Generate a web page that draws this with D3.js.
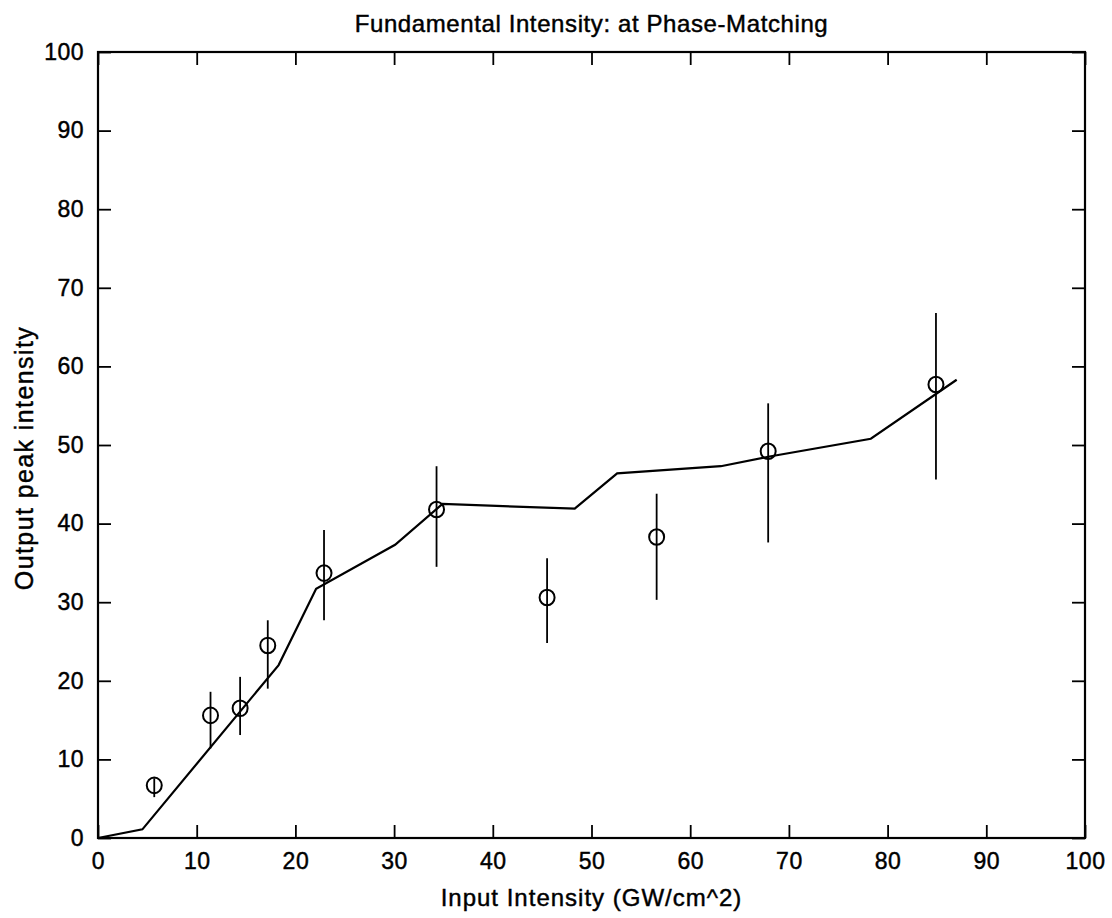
<!DOCTYPE html>
<html><head><meta charset="utf-8">
<script src="https://cdn.jsdelivr.net/npm/d3@7"></script>
<style>html,body{margin:0;padding:0;background:#fff;}svg{display:block;font-family:"Liberation Sans",Arial,sans-serif;} text{stroke:#000;stroke-width:0.45px;}</style>
</head><body>
<svg id="c" width="1112" height="918"></svg>
<script>
const ticks = [0,10,20,30,40,50,60,70,80,90,100];
const pointX = [5.7, 11.4, 14.4, 17.2, 22.9, 34.3, 45.5, 56.6, 67.9, 84.9];
const pointY = [6.7, 15.6, 16.5, 24.5, 33.7, 41.8, 30.6, 38.3, 49.2, 57.7];
const errLow = [5.2, 11.4, 13.1, 19.0, 27.7, 34.5, 24.8, 30.3, 37.6, 45.6];
const errHigh = [7.6, 18.6, 20.5, 27.7, 39.2, 47.3, 35.6, 43.8, 55.3, 66.8];
const lineX = [0, 4.5, 18.3, 22.1, 30.1, 34.9, 48.3, 52.6, 63.1, 67.9, 78.3, 87.0];
const lineY = [0, 1.1, 22.0, 31.7, 37.3, 42.5, 41.9, 46.4, 47.3, 48.5, 50.8, 58.3];

const L = 98, R = 1085, T = 52, B = 838;
const svg = d3.select("#c");
const x = d3.scaleLinear().domain([0,100]).range([L,R]);
const y = d3.scaleLinear().domain([0,100]).range([B,T]);

// axes (ticks inward)
svg.append("g").attr("transform",`translate(0,${B})`)
  .call(d3.axisBottom(x).tickValues(ticks).tickSizeInner(-13).tickSizeOuter(0).tickPadding(15));
svg.append("g").attr("transform",`translate(${L},0)`)
  .call(d3.axisLeft(y).tickValues(ticks).tickSizeInner(-13).tickSizeOuter(0).tickPadding(14));
svg.append("g").attr("transform",`translate(0,${T})`)
  .call(d3.axisTop(x).tickValues(ticks).tickSizeInner(-13).tickSizeOuter(0).tickFormat(""));
svg.append("g").attr("transform",`translate(${R},0)`)
  .call(d3.axisRight(y).tickValues(ticks).tickSizeInner(-13).tickSizeOuter(0).tickFormat(""));
svg.selectAll(".domain").remove();
svg.selectAll(".tick line").attr("stroke","#000").attr("stroke-width",1.8);
svg.selectAll(".tick text").attr("font-size",23).attr("fill","#000").attr("letter-spacing",0.5);
svg.append("rect").attr("x",L).attr("y",T).attr("width",R-L).attr("height",B-T)
  .attr("fill","none").attr("stroke","#000").attr("stroke-width",2.2);

// line
const pts = lineX.map((v,i)=>[v,lineY[i]]);
svg.append("path").datum(pts)
  .attr("d", d3.line().x(d=>x(d[0])).y(d=>y(d[1])))
  .attr("fill","none").attr("stroke","#000").attr("stroke-width",2.2);

// error bars
const data = pointX.map((v,i)=>({x:v,y:pointY[i],lo:errLow[i],hi:errHigh[i]}));
svg.append("g").selectAll("line").data(data).join("line")
  .attr("x1",d=>x(d.x)).attr("x2",d=>x(d.x))
  .attr("y1",d=>y(d.lo)).attr("y2",d=>y(d.hi))
  .attr("stroke","#000").attr("stroke-width",1.8);
// circles
svg.append("g").selectAll("ellipse").data(data).join("ellipse")
  .attr("cx",d=>x(d.x)).attr("cy",d=>y(d.y)).attr("rx",7.5).attr("ry",7.8)
  .attr("fill","none").attr("stroke","#000").attr("stroke-width",2);

// texts
svg.append("text").attr("x",(L+R)/2).attr("y",32).attr("text-anchor","middle")
  .attr("font-size",24).attr("letter-spacing",0.6).text("Fundamental Intensity: at Phase-Matching");
svg.append("text").attr("x",(L+R)/2).attr("y",906).attr("text-anchor","middle")
  .attr("font-size",24).attr("letter-spacing",1).text("Input Intensity (GW/cm^2)");
svg.append("text").attr("transform",`translate(33,${458}) rotate(-90)`).attr("text-anchor","middle")
  .attr("font-size",25).attr("letter-spacing",1.4).text("Output peak intensity");
</script>
</body></html>
